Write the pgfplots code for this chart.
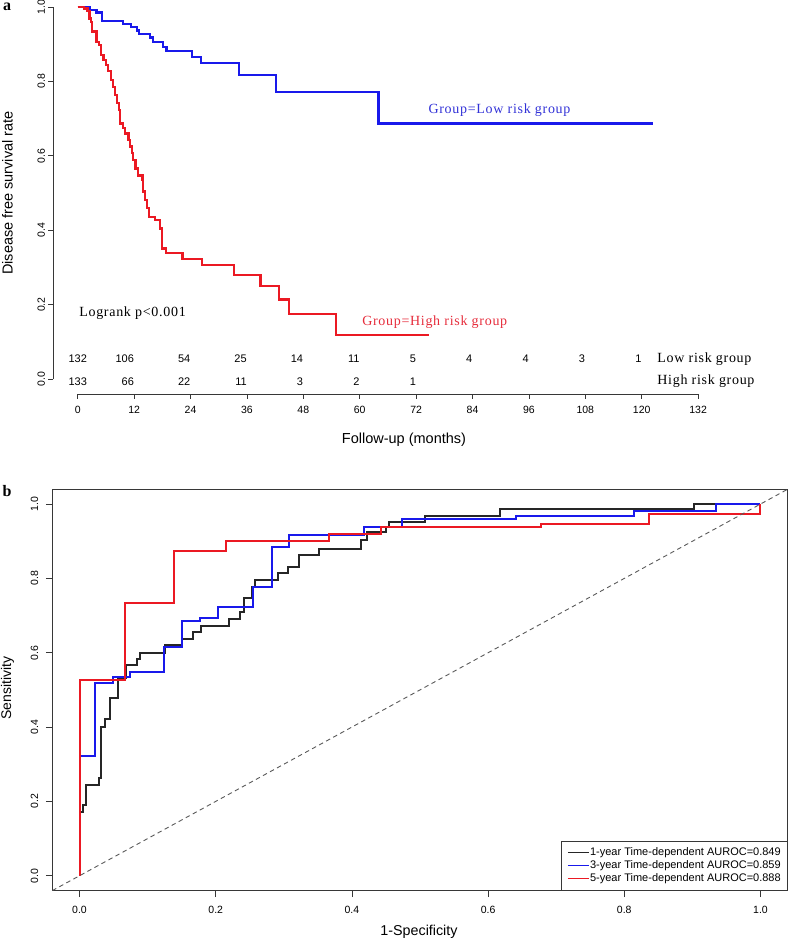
\documentclass[border=0pt]{standalone}
\usepackage{pgfplots}
\pgfplotsset{compat=1.18}
\usepackage{fontspec}
\setmainfont{Liberation Sans}
\newfontfamily\serifF[LetterSpace=5]{Liberation Serif}
\newfontfamily\serifB{Liberation Serif}
\definecolor{kmblue}{RGB}{25,25,235}
\definecolor{kmred}{RGB}{235,25,35}
\definecolor{txtblue}{RGB}{50,50,215}
\definecolor{txtred}{RGB}{230,45,60}
\definecolor{axgray}{RGB}{55,55,55}
\begin{document}
\begin{tikzpicture}
\useasboundingbox (0,0) rectangle (797bp,-939bp);
% ---------------- Panel a ----------------
\begin{axis}[
  at={(52.9bp,-394bp)}, anchor=south west, scale only axis,
  width=670bp, height=387bp,
  xmin=-5.28, xmax=137.28, ymin=-0.04, ymax=1.0,
  clip=false,
  axis x line*=bottom, axis y line*=left,
  axis line style={draw=none},
  xtick={0,12,24,36,48,60,72,84,96,108,120,132},
  ytick={0,0.2,0.4,0.6,0.8,1.0},
  tick align=outside, major tick length=4.5bp,
  tick style={axgray, line width=0.8bp},
  /pgf/number format/assume math mode=true,
  tick label style={font=\fontsize{10.5bp}{12bp}\selectfont},
  xticklabel style={yshift=-4bp},
  yticklabel style={rotate=90, anchor=south,
    /pgf/number format/fixed, /pgf/number format/fixed zerofill,
    /pgf/number format/precision=1},
]
\draw[axgray, line width=0.8bp] (axis cs:0,-0.04) -- (axis cs:132,-0.04);
\draw[axgray, line width=0.8bp] (axis cs:-5.28,0) -- (axis cs:-5.28,1);
% Low risk group
\addplot[const plot, kmblue, line width=2.2bp] coordinates {
(0,1) (2.5,0.993) (4.0,0.985) (5.1,0.963) (9.7,0.954) (11.3,0.946) (12.6,0.937)
(13.0,0.927) (15.4,0.918) (16.0,0.905) (18.2,0.893) (18.9,0.882) (24.4,0.865)
(26.2,0.849) (34.4,0.817) (42.2,0.772) (64.0,0.687) (122.4,0.687)};
% High risk group
\addplot[const plot, kmred, line width=2.2bp] coordinates {
(0,1) (1.3,0.996) (2.1,0.99) (2.5,0.969) (2.8,0.96) (3.0,0.934) (4.0,0.907)
(4.6,0.898) (5.0,0.871) (5.5,0.858) (6.0,0.844) (6.5,0.828) (7.0,0.804)
(7.5,0.784) (7.9,0.763) (8.3,0.741) (8.7,0.723) (9.0,0.687) (9.6,0.674)
(10.1,0.660) (10.8,0.642) (11.1,0.625) (11.5,0.607) (11.8,0.589) (12.3,0.566)
(12.9,0.547) (13.8,0.535) (13.9,0.504) (14.3,0.481) (14.7,0.459) (15.2,0.436)
(16.5,0.427) (17.5,0.405) (17.9,0.383) (18.0,0.351) (18.7,0.338) (22.3,0.322)
(26.5,0.306) (33.3,0.280) (38.9,0.250) (42.9,0.214) (45.0,0.175) (55.0,0.118)
(74.7,0.118)};
% labels
\node[anchor=west, font=\serifF\fontsize{14bp}{16bp}\selectfont, text=txtblue] at (axis cs:73.9,0.723) {Group=Low risk group};
\node[anchor=west, font=\serifF\fontsize{14bp}{16bp}\selectfont, text=txtred] at (axis cs:59.8,0.153) {Group=High risk group};
\node[anchor=west, font=\serifF\fontsize{14bp}{16bp}\selectfont] at (axis cs:-0.4,0.177) {Logrank p<0.001};
% numbers at risk
\begin{scope}[every node/.style={font=\fontsize{11bp}{13bp}\selectfont, inner sep=0pt}]
\node[anchor=center] at (axis cs:0,0.054) {132};
\node[anchor=east] at (axis cs:12,0.054) {106};
\node[anchor=east] at (axis cs:24,0.054) {54};
\node[anchor=east] at (axis cs:36,0.054) {25};
\node[anchor=east] at (axis cs:48,0.054) {14};
\node[anchor=east] at (axis cs:60,0.054) {11};
\node[anchor=east] at (axis cs:72,0.054) {5};
\node[anchor=east] at (axis cs:84,0.054) {4};
\node[anchor=east] at (axis cs:96,0.054) {4};
\node[anchor=east] at (axis cs:108,0.054) {3};
\node[anchor=east] at (axis cs:120,0.054) {1};
\node[anchor=center] at (axis cs:0,-0.006) {133};
\node[anchor=east] at (axis cs:12,-0.006) {66};
\node[anchor=east] at (axis cs:24,-0.006) {22};
\node[anchor=east] at (axis cs:36,-0.006) {11};
\node[anchor=east] at (axis cs:48,-0.006) {3};
\node[anchor=east] at (axis cs:60,-0.006) {2};
\node[anchor=east] at (axis cs:72,-0.006) {1};
\end{scope}
\node[anchor=west, font=\serifF\fontsize{14bp}{16bp}\selectfont] at (axis cs:122.6,0.054) {Low risk group};
\node[anchor=west, font=\serifF\fontsize{14bp}{16bp}\selectfont] at (axis cs:122.6,-0.006) {High risk group};
\end{axis}
\node[rotate=90, font=\fontsize{14.5bp}{17bp}\selectfont] at (7.5bp,-193bp) {Disease free survival rate};
\node[font=\fontsize{14.5bp}{17bp}\selectfont] at (404bp,-440bp) {Follow-up (months)};
\node[font=\serifB\bfseries\fontsize{16bp}{18bp}\selectfont, inner sep=0pt] at (7bp,-7bp) {a};
% ---------------- Panel b ----------------
\begin{axis}[
  at={(52.3bp,-890.6bp)}, anchor=south west, scale only axis,
  width=735.4bp, height=401.4bp,
  xmin=-0.04, xmax=1.04, ymin=-0.04, ymax=1.04,
  xtick={0,0.2,0.4,0.6,0.8,1.0}, ytick={0,0.2,0.4,0.6,0.8,1.0},
  xtick pos=left, ytick pos=left,
  tick align=outside, major tick length=6.5bp,
  axis line style={axgray, line width=0.8bp},
  tick style={axgray, line width=0.8bp},
  /pgf/number format/assume math mode=true,
  /pgf/number format/fixed, /pgf/number format/fixed zerofill,
  /pgf/number format/precision=1,
  tick label style={font=\fontsize{10.5bp}{12bp}\selectfont},
  xticklabel style={yshift=-6bp},
  yticklabel style={xshift=-4bp, rotate=90, anchor=south},
  legend style={at={(1,0)}, anchor=south east, draw=axgray, line width=0.7bp,
    inner xsep=6bp, inner ysep=6bp, row sep=1.2bp,
    font=\fontsize{11bp}{13bp}\selectfont,
    nodes={inner sep=0.6bp, text height=8bp, text depth=2.4bp},
    /tikz/every even column/.append style={column sep=9bp}},
  legend cell align=left,
  legend image code/.code={\draw[#1, line width=1.1bp] (0bp,0bp) -- (21bp,0bp);},
]
\addplot[black!85, line width=2bp] coordinates {
(0,0) (0,0.172) (0.005,0.172) (0.005,0.190) (0.010,0.190) (0.010,0.243)
(0.028,0.243) (0.028,0.264) (0.032,0.264) (0.032,0.401) (0.037,0.401)
(0.037,0.422) (0.045,0.422) (0.045,0.477) (0.057,0.477) (0.057,0.532)
(0.068,0.532) (0.068,0.567) (0.084,0.567) (0.084,0.582) (0.089,0.582)
(0.089,0.600) (0.125,0.600) (0.125,0.621) (0.150,0.621) (0.150,0.637)
(0.166,0.637) (0.166,0.657) (0.178,0.657) (0.178,0.672) (0.219,0.672)
(0.219,0.691) (0.236,0.691) (0.236,0.709) (0.241,0.709) (0.241,0.747)
(0.253,0.747) (0.253,0.778) (0.258,0.778) (0.258,0.796) (0.292,0.796)
(0.292,0.814) (0.306,0.814) (0.306,0.832) (0.322,0.832) (0.322,0.863)
(0.352,0.863) (0.352,0.879) (0.414,0.879) (0.414,0.903) (0.422,0.903)
(0.422,0.926) (0.450,0.926) (0.450,0.939) (0.455,0.939) (0.455,0.951)
(0.508,0.951) (0.508,0.969) (0.618,0.969) (0.618,0.986) (0.902,0.986)
(0.902,1.0) (1,1)};
\addlegendentry{1-year Time-dependent AUROC=0.849}
\addplot[kmblue, line width=2bp] coordinates {
(0,0) (0,0.323) (0.023,0.323) (0.023,0.518) (0.049,0.518) (0.049,0.536)
(0.074,0.536) (0.074,0.549) (0.124,0.549) (0.124,0.615) (0.150,0.615)
(0.150,0.686) (0.177,0.686) (0.177,0.693) (0.203,0.693) (0.203,0.724)
(0.255,0.724) (0.255,0.778) (0.282,0.778) (0.282,0.885) (0.308,0.885)
(0.308,0.917) (0.418,0.917) (0.418,0.939) (0.474,0.939) (0.474,0.960)
(0.641,0.960) (0.641,0.969) (0.814,0.969) (0.814,0.982) (0.934,0.982)
(0.934,1.0) (1,1)};
\addlegendentry{3-year Time-dependent AUROC=0.859}
\addplot[kmred, line width=2bp] coordinates {
(0,0) (0,0.528) (0.067,0.528) (0.067,0.733) (0.139,0.733) (0.139,0.874)
(0.215,0.874) (0.215,0.901) (0.367,0.901) (0.367,0.919) (0.443,0.919)
(0.443,0.939) (0.677,0.939) (0.677,0.946) (0.837,0.946) (0.837,0.973)
(1.0,0.973) (1.0,1.0)};
\addlegendentry{5-year Time-dependent AUROC=0.888}
\addplot[gray!70!black, line width=0.9bp, dash pattern=on 4.5bp off 3.5bp, forget plot] coordinates {(-0.04,-0.04) (1.04,1.04)};
\end{axis}
\node[rotate=90, font=\fontsize{14bp}{16bp}\selectfont] at (7.5bp,-688bp) {Sensitivity};
\node[font=\fontsize{14.3bp}{16bp}\selectfont] at (419bp,-932bp) {1-Specificity};
\node[font=\serifB\bfseries\fontsize{16bp}{18bp}\selectfont, inner sep=0pt] at (7bp,-491bp) {b};
\end{tikzpicture}
\end{document}
